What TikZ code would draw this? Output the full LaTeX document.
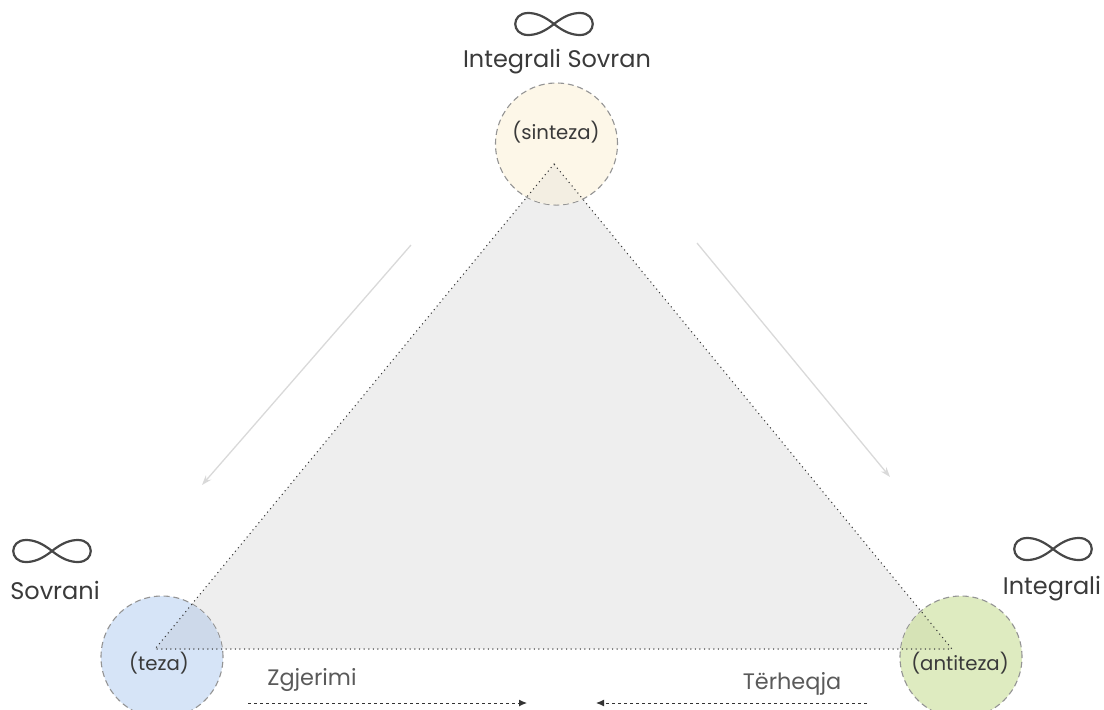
\documentclass[tikz,border=0pt]{standalone}
\usepackage{fontspec}
\setmainfont{Poppins}
\usetikzlibrary{arrows.meta}
\definecolor{txtdark}{HTML}{3A3A3A}
\definecolor{txtgrey}{HTML}{5A5A5A}
\definecolor{sun}{HTML}{FDF7E8}
\definecolor{sky}{HTML}{D6E4F7}
\definecolor{leaf}{HTML}{DEEBC0}
\definecolor{sunov}{HTML}{F3EEE2}
\definecolor{skyov}{HTML}{CDD9EA}
\definecolor{leafov}{HTML}{D6E3B6}
\definecolor{panel}{HTML}{EEEEEE}
\tikzset{
  x=1pt,y=-1pt,
  disc/.style={circle,minimum size=122pt,inner sep=0pt,draw=black!42,line width=1.1pt,dash pattern=on 6pt off 3.8pt},
  lab/.style={font=\fontsize{24}{28}\selectfont,text=txtdark,inner sep=0pt},
  sublab/.style={font=\fontsize{19.7}{23}\selectfont,text=txtdark,inner sep=0pt},
  pale/.style={font=\fontsize{22.4}{26}\selectfont,text=txtgrey,inner sep=0pt},
  edge/.style={black!78,line width=1.5pt,line cap=round,dash pattern=on 0pt off 4.6pt},
  flow/.style={black!15,line width=1.3pt,-{Stealth[length=10pt,width=7pt]}},
  move/.style={black!80,line width=1pt,dash pattern=on 3pt off 3pt,-{Latex[length=8pt,width=7pt,sep=0pt]}},
  infin/.pic={
    \draw[black!72,line width=2.2pt,line join=round]
      (0,0) .. controls (10,-8) and (18,-11) .. (26,-11)
      .. controls (43,-11) and (43,11) .. (26,11)
      .. controls (18,11) and (10,8) .. (0,0)
      .. controls (-10,-8) and (-18,-11) .. (-26,-11)
      .. controls (-43,-11) and (-43,11) .. (-26,11)
      .. controls (-18,11) and (-10,8) .. (0,0);
  }
}
\begin{document}
\begin{tikzpicture}
\useasboundingbox (0,0) rectangle (1104,710);
% triangle
\coordinate (A) at (554,164);
\coordinate (B) at (155,649);
\coordinate (C) at (952,649);
\fill[panel] (A) -- (B) -- (C) -- cycle;
% discs
\begin{scope}
\clip (0,0) rectangle (1104,710);
\node[disc,fill=sun] (top) at (556.5,144) {};
\node[disc,fill=sky] (left) at (162,657) {};
\node[disc,fill=leaf] (right) at (961,657) {};
\begin{scope}
\clip (556.5,144) circle (60.5);
\fill[sunov] (A) -- (B) -- (C) -- cycle;
\end{scope}
\begin{scope}
\clip (162,657) circle (60.5);
\fill[skyov] (A) -- (B) -- (C) -- cycle;
\end{scope}
\begin{scope}
\clip (961,657) circle (60.5);
\fill[leafov] (A) -- (B) -- (C) -- cycle;
\end{scope}
\end{scope}
\draw[edge] (A) -- (B) -- (C) -- cycle;
% labels inside discs
\node[sublab] (sint) at (556,132) {(sinteza)};
\node[sublab] (tez) at (159,663) {(teza)};
\node[sublab] (anti) at (960,663) {(antiteza)};
% titles
\node[lab] (t1) at (557,62) {Integrali Sovran};
\node[lab] (t2) at (55,590) {Sovrani};
\node[lab] (t3) at (1052,589) {Integrali};
% infinity symbols
\pic at (554,24) {infin};
\pic at (52,551) {infin};
\pic at (1053,549) {infin};
% flow arrows
\coordinate (f1a) at (411,245); \coordinate (f1b) at (202,485);
\coordinate (f2a) at (697,243); \coordinate (f2b) at (890,477);
\draw[flow] (f1a) -- (f1b);
\draw[flow] (f2a) -- (f2b);
% bottom arrows
\node[pale] (zg) at (312,680) {Zgjerimi};
\node[pale] (te) at (792,684) {Tërheqja};
\coordinate (m1a) at (248,703); \coordinate (m1b) at (527,703);
\coordinate (m2a) at (867,703); \coordinate (m2b) at (596,703);
\draw[move] (m1a) -- (m1b);
\draw[move] (m2a) -- (m2b);
\end{tikzpicture}
\end{document}
